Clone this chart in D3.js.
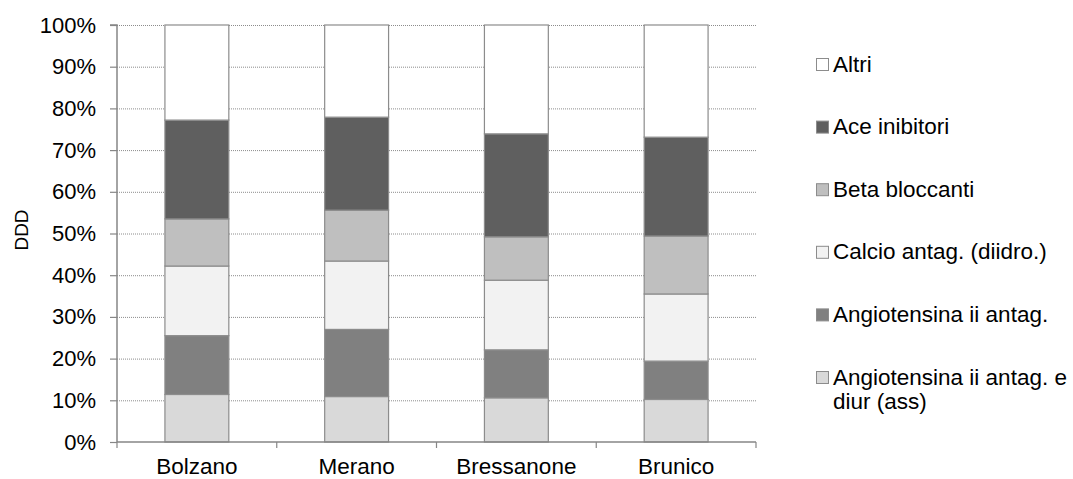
<!DOCTYPE html>
<html><head><meta charset="utf-8">
<script src="https://cdn.jsdelivr.net/npm/d3@7"></script>
<style>body{margin:0;background:#fff}svg{display:block;font-family:"Liberation Sans",Arial,sans-serif}</style>
</head><body><svg id="c" width="1073" height="479"></svg>
<script>
const categories = ["Bolzano","Merano","Bressanone","Brunico"];
const seriesNames = ["Angiotensina ii antag. e diur (ass)","Angiotensina ii antag.","Calcio antag. (diidro.)","Beta bloccanti","Ace inibitori","Altri"];
const angioDiur = [11.4,10.9,10.6,10.2];
const angio = [14.1,16.1,11.5,9.2];
const calcio = [16.7,16.4,16.7,16.1];
const beta = [11.3,12.2,10.4,13.9];
const ace = [23.7,22.3,24.7,23.7];
const altri = [22.8,22.1,26.1,26.9];
const yTicks = [0,10,20,30,40,50,60,70,80,90,100];
const colors = ["#d9d9d9","#808080","#f2f2f2","#bfbfbf","#5f5f5f","#ffffff"];

const seriesVals = [angioDiur,angio,calcio,beta,ace,altri];
const rows = categories.map((c,i)=>{const r={cat:c};seriesNames.forEach((s,j)=>r[s]=seriesVals[j][i]);return r;});
const stack = d3.stack().keys(seriesNames)(rows);

const svg = d3.select("#c");
const pL=117,pR=756,pT=25,pB=442;
const x = d3.scaleBand().domain(categories).range([pL,pR]).paddingInner(0.6).paddingOuter(0.3);
const y = d3.scaleLinear().domain([0,100]).range([pB,pT]);

// gridlines
svg.append("g").selectAll("line").data(yTicks.filter(d=>d>0)).join("line")
  .attr("x1",pL).attr("x2",pR).attr("y1",d=>y(d)+0.5).attr("y2",d=>y(d)+0.5)
  .attr("stroke","#8c8c8c").attr("stroke-width",1).attr("stroke-dasharray","1,1");

// bars
svg.append("g").selectAll("g").data(stack).join("g").attr("fill",(d,i)=>colors[i])
  .selectAll("rect").data(d=>d).join("rect")
  .attr("x",d=>x(d.data.cat)).attr("width",x.bandwidth())
  .attr("y",d=>y(d[1])).attr("height",d=>y(d[0])-y(d[1]))
  .attr("stroke","#8c8c8c").attr("stroke-width",1.2);

// y axis
const yAxis = d3.axisLeft(y).tickValues(yTicks).tickFormat(d=>d+"%").tickSize(7).tickPadding(14);
const gy = svg.append("g").attr("transform",`translate(${pL},0)`).call(yAxis);
gy.select(".domain").attr("stroke","#868686").attr("stroke-width",1.5).attr("d",`M-7,${pT}H0V${pB}`);
gy.selectAll(".tick line").attr("stroke","#868686").attr("stroke-width",1.2);
gy.selectAll("text").attr("font-size",22).attr("fill","#000").attr("font-family","Liberation Sans, Arial, sans-serif");

// x axis
const xl = d3.scalePoint().domain(d3.range(categories.length+1)).range([pL,pR]);
const gx = svg.append("g").attr("transform",`translate(0,${pB})`);
gx.append("line").attr("x1",pL).attr("x2",pR).attr("y1",0).attr("y2",0).attr("stroke","#868686").attr("stroke-width",1.5);
gx.selectAll("line.t").data(d3.range(categories.length+1)).join("line").attr("class","t")
  .attr("x1",d=>xl(d)).attr("x2",d=>xl(d)).attr("y1",0).attr("y2",6).attr("stroke","#868686").attr("stroke-width",1.2);
gx.selectAll("text").data(categories).join("text")
  .attr("x",d=>x(d)+x.bandwidth()/2).attr("y",31.5).attr("text-anchor","middle")
  .attr("font-size",22.5).attr("fill","#000").text(d=>d);

// y title
svg.append("text").attr("transform",`translate(28,230) rotate(-90)`).attr("text-anchor","middle")
  .attr("font-size",19).attr("fill","#000").text("DDD");

// legend
const legendOrder = seriesNames.map((s,i)=>({name:s,color:colors[i]})).reverse();
const ly = d3.scalePoint().domain(legendOrder.map(d=>d.name)).range([64,377]);
const lg = svg.append("g").selectAll("g").data(legendOrder).join("g")
  .attr("transform",d=>`translate(816,${ly(d.name)})`);
lg.append("rect").attr("x",0.5).attr("y",-5.5).attr("width",12).attr("height",12)
  .attr("fill",d=>d.color).attr("stroke","#8c8c8c").attr("stroke-width",1);
lg.each(function(d){
  const g=d3.select(this);
  const parts = d.name==="Angiotensina ii antag. e diur (ass)" ? ["Angiotensina ii antag. e","diur (ass)"] : [d.name];
  parts.forEach((p,k)=>g.append("text").attr("x",17).attr("y",7.5+k*24).attr("font-size",22.5).attr("fill","#000").text(p));
});
</script></body></html>
